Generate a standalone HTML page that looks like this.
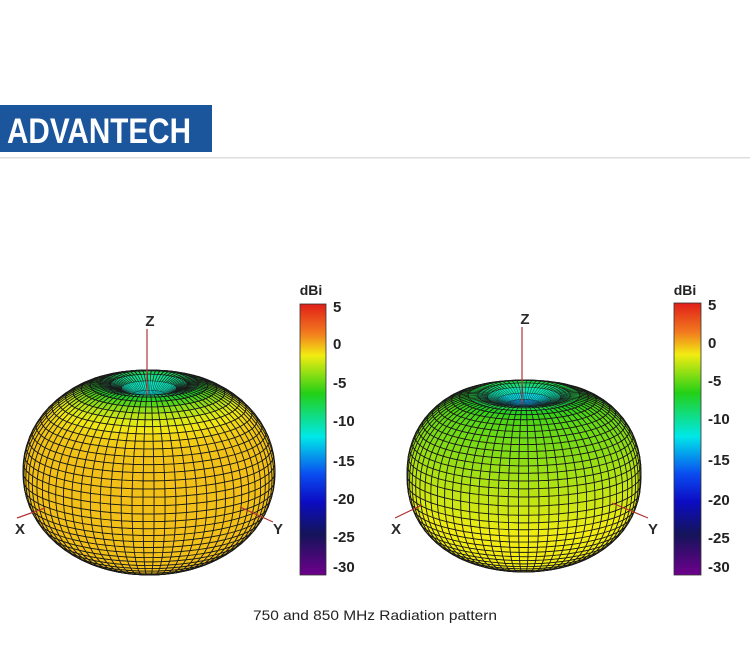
<!DOCTYPE html>
<html><head><meta charset="utf-8">
<style>
html,body{margin:0;padding:0;background:#fff;width:750px;height:650px;overflow:hidden}
svg{display:block}
</style></head>
<body>
<svg id="s" width="750" height="650" viewBox="0 0 750 650" xmlns="http://www.w3.org/2000/svg" font-family="Liberation Sans, Arial, sans-serif">
<defs>
<linearGradient id="cb" x1="0" y1="0" x2="0" y2="1">
<stop offset="0" stop-color="rgb(225,30,25)"/>
<stop offset="0.11" stop-color="rgb(242,125,30)"/>
<stop offset="0.19" stop-color="rgb(242,236,18)"/>
<stop offset="0.33" stop-color="rgb(35,208,22)"/>
<stop offset="0.49" stop-color="rgb(0,232,232)"/>
<stop offset="0.63" stop-color="rgb(10,75,240)"/>
<stop offset="0.73" stop-color="rgb(12,12,195)"/>
<stop offset="0.85" stop-color="rgb(20,20,90)"/>
<stop offset="1" stop-color="rgb(110,0,140)"/>
</linearGradient>
</defs>
<rect x="0" y="105" width="212" height="47" fill="#1b559b"/>
<text x="7" y="143" fill="#fff" font-size="35" font-weight="bold" textLength="184" lengthAdjust="spacingAndGlyphs">ADVANTECH</text>
<rect x="0" y="157" width="750" height="1.5" fill="#dedede"/>

<g id="L" stroke="#1a1a1a" stroke-linejoin="round"></g>
<g id="R" stroke="#1a1a1a" stroke-linejoin="round"></g>

<g stroke="#b03535" stroke-width="1.2" fill="none">
<line x1="147" y1="329" x2="147" y2="395"/>
<line x1="17" y1="518" x2="45" y2="508"/>
<line x1="240" y1="507" x2="273" y2="522"/>
<line x1="522" y1="327" x2="522" y2="404"/>
<line x1="395" y1="518" x2="422" y2="505"/>
<line x1="612" y1="503" x2="648" y2="518"/>
</g>
<g font-size="15" font-weight="bold" fill="#2a2a2a" text-anchor="middle">
<text x="150" y="326">Z</text>
<text x="20" y="534">X</text>
<text x="278" y="534">Y</text>
<text x="525" y="324">Z</text>
<text x="396" y="534">X</text>
<text x="653" y="534">Y</text>
</g>

<rect x="300" y="304" width="26" height="271" fill="url(#cb)" stroke="#333" stroke-width="0.8"/>
<text x="311" y="295" font-size="14" font-weight="bold" fill="#222" text-anchor="middle">dBi</text>
<g font-size="15" font-weight="bold" fill="#222">
<text x="333" y="312">5</text>
<text x="333" y="349">0</text>
<text x="333" y="388">-5</text>
<text x="333" y="426">-10</text>
<text x="333" y="466">-15</text>
<text x="333" y="504">-20</text>
<text x="333" y="542">-25</text>
<text x="333" y="572">-30</text>
</g>

<rect x="674" y="303" width="27" height="272" fill="url(#cb)" stroke="#333" stroke-width="0.8"/>
<text x="685" y="295" font-size="14" font-weight="bold" fill="#222" text-anchor="middle">dBi</text>
<g font-size="15" font-weight="bold" fill="#222">
<text x="708" y="310">5</text>
<text x="708" y="348">0</text>
<text x="708" y="386">-5</text>
<text x="708" y="424">-10</text>
<text x="708" y="465">-15</text>
<text x="708" y="505">-20</text>
<text x="708" y="543">-25</text>
<text x="708" y="572">-30</text>
</g>

<text x="375" y="620" text-anchor="middle" font-size="14" fill="#222" textLength="244" lengthAdjust="spacingAndGlyphs">750 and 850 MHz Radiation pattern</text>
</svg>
<script>
(function(){
var stops=[[5,[225,30,25]],[2.5,[242,125,30]],[0,[242,236,18]],[-5,[35,208,22]],[-12,[0,232,232]],[-17,[10,75,240]],[-21,[12,12,195]],[-25,[20,20,90]],[-30,[110,0,140]]];
function rgb(c){return 'rgb('+c[0]+','+c[1]+','+c[2]+')';}
function col(v){
  if(v>=stops[0][0]) return rgb(stops[0][1]);
  for(var k=0;k<stops.length-1;k++){
    var a=stops[k],b=stops[k+1];
    if(v<=a[0]&&v>=b[0]){
      var t=(a[0]-v)/(a[0]-b[0]);
      return rgb([0,1,2].map(function(i){return Math.round(a[1][i]+(b[1][i]-a[1][i])*t);}));
    }
  }
  return rgb(stops[stops.length-1][1]);
}
function sp(v,p){return (v<0?-1:1)*Math.pow(Math.abs(v),p);}
function draw(id,p){
  var g=document.getElementById(id);
  var N=40,M=72,e=p.e*Math.PI/180,se=Math.sin(e),ce=Math.cos(e);
  function th(i){return Math.PI*i/N;}
  function P(t,ph){
    var r=1-p.d*Math.exp(-Math.pow(t/p.w,2));
    var rho=r*sp(Math.sin(t),p.p), z=r*sp(Math.cos(t),p.p)*p.zr;
    var X=rho*Math.cos(ph),Y=rho*Math.sin(ph),Z=z;
    return [X,-(Y*se+Z*ce),-Y*ce+Z*se];
  }
  var pts=[],i,j,minx=1e9,maxx=-1e9,miny=1e9,maxy=-1e9;
  for(i=0;i<=N;i++){pts[i]=[];for(j=0;j<=M;j++){
    var q0=P(th(i),j*2*Math.PI/M+p.off);pts[i][j]=q0;
    if(q0[0]<minx)minx=q0[0];if(q0[0]>maxx)maxx=q0[0];
    if(q0[1]<miny)miny=q0[1];if(q0[1]>maxy)maxy=q0[1];
  }}
  var sx=(p.x1-p.x0)/(maxx-minx), sy=(p.y1-p.y0)/(maxy-miny);
  function fx(v){return (p.x0+(v-minx)*sx).toFixed(1);}
  function fy(v){return (p.y0+(v-miny)*sy).toFixed(1);}
  var q=[];
  for(i=0;i<N;i++){for(j=0;j<M;j++){
    var a=pts[i][j],b=pts[i][j+1],c=pts[i+1][j+1],d=pts[i+1][j];
    var dep=(a[2]+b[2]+c[2]+d[2])/4;
    var tm=(th(i)+th(i+1))/2;
    var path='M'+fx(a[0])+' '+fy(a[1])+'L'+fx(b[0])+' '+fy(b[1])+'L'+fx(c[0])+' '+fy(c[1])+'L'+fx(d[0])+' '+fy(d[1])+'Z';
    var sw=tm<p.w*0.95?0.35:(tm<p.w*1.4?0.6:0.85);
    q.push([dep,path,col(p.g(tm)),sw]);
  }}
  q.sort(function(x,y){return x[0]-y[0];});
  var h='';
  for(var k=0;k<q.length;k++){h+='<path d="'+q[k][1]+'" fill="'+q[k][2]+'" stroke-width="'+q[k][3]+'"/>';}
  g.innerHTML=h;
}
draw('L',{x0:23,x1:275,y0:370,y1:575,e:16,off:0.04,p:0.96,zr:0.82,d:0.3,w:0.24,
  g:function(t){return 1.0-13.5*Math.exp(-Math.pow(t/0.5,2));}});
draw('R',{x0:407,x1:641,y0:380,y1:572,e:16,off:0.04,p:0.9,zr:0.82,d:0.27,w:0.32,
  g:function(t){var v=-1.0-3.4*Math.cos(t);if(v>0)v=0;return v-11*Math.exp(-Math.pow(t/0.35,2));}});
})();
</script>
</body></html>
